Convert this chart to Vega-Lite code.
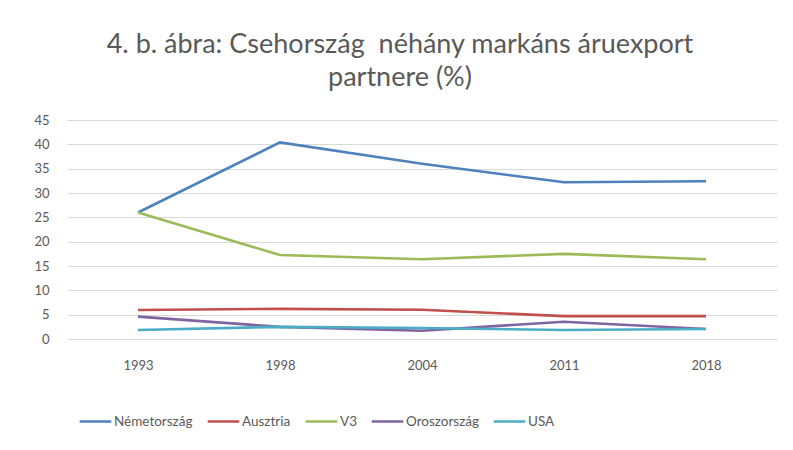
{
  "$schema": "https://vega.github.io/schema/vega-lite/v6.json",
  "width": 710,
  "height": 219,
  "autosize": {"type": "none"},
  "padding": {"left": 67, "top": 120, "right": 16, "bottom": 111},
  "background": "white",
  "config": {
    "view": {"stroke": null},
    "font": "Lato",
    "axis": {"labelFont": "Lato", "labelColor": "#595959", "labelFontSize": 13},
    "legend": {"labelFont": "Lato", "labelColor": "#595959", "labelFontSize": 13.5}
  },
  "title": {
    "text": ["4. b. ábra: Csehország\u00a0 néhány markáns áruexport", "partnere (%)"],
    "font": "Lato",
    "fontSize": 27,
    "fontWeight": "normal",
    "color": "#595959",
    "lineHeight": 33,
    "anchor": "middle",
    "dx": -22,
    "offset": 22
  },
  "data": {
    "values": [
      {"year": "1993", "country": "Németország", "value": 26.0},
      {"year": "1998", "country": "Németország", "value": 40.4},
      {"year": "2004", "country": "Németország", "value": 36.0},
      {"year": "2011", "country": "Németország", "value": 32.2},
      {"year": "2018", "country": "Németország", "value": 32.4},
      {"year": "1993", "country": "Ausztria", "value": 5.95},
      {"year": "1998", "country": "Ausztria", "value": 6.2},
      {"year": "2004", "country": "Ausztria", "value": 6.0},
      {"year": "2011", "country": "Ausztria", "value": 4.7},
      {"year": "2018", "country": "Ausztria", "value": 4.7},
      {"year": "1993", "country": "V3", "value": 26.0},
      {"year": "1998", "country": "V3", "value": 17.25},
      {"year": "2004", "country": "V3", "value": 16.4},
      {"year": "2011", "country": "V3", "value": 17.5},
      {"year": "2018", "country": "V3", "value": 16.4},
      {"year": "1993", "country": "Oroszország", "value": 4.6},
      {"year": "1998", "country": "Oroszország", "value": 2.5},
      {"year": "2004", "country": "Oroszország", "value": 1.7},
      {"year": "2011", "country": "Oroszország", "value": 3.55},
      {"year": "2018", "country": "Oroszország", "value": 2.05},
      {"year": "1993", "country": "USA", "value": 1.85},
      {"year": "1998", "country": "USA", "value": 2.5},
      {"year": "2004", "country": "USA", "value": 2.25},
      {"year": "2011", "country": "USA", "value": 1.85},
      {"year": "2018", "country": "USA", "value": 2.05}
    ]
  },
  "mark": {"type": "line", "strokeWidth": 2.6},
  "encoding": {
    "x": {
      "field": "year",
      "type": "ordinal",
      "scale": {"type": "point", "padding": 0.5},
      "axis": {"title": null, "labelAngle": 0, "ticks": false, "domain": false, "labelPadding": 20, "grid": false}
    },
    "y": {
      "field": "value",
      "type": "quantitative",
      "scale": {"domain": [0, 45]},
      "axis": {"title": null, "values": [0, 5, 10, 15, 20, 25, 30, 35, 40, 45], "ticks": false, "domain": false, "gridColor": "#D9D9D9", "gridWidth": 1, "labelPadding": 18}
    },
    "color": {
      "field": "country",
      "type": "nominal",
      "sort": ["Németország", "Ausztria", "V3", "Oroszország", "USA"],
      "scale": {
        "domain": ["Németország", "Ausztria", "V3", "Oroszország", "USA"],
        "range": ["#4F81BD", "#C0504D", "#9BBB59", "#8064A2", "#4BACC6"]
      },
      "legend": {
        "title": null,
        "orient": "none",
        "direction": "horizontal",
        "legendX": 11,
        "legendY": 284,
        "symbolType": "stroke",
        "symbolSize": 1000,
        "symbolStrokeWidth": 2.6,
        "labelOffset": 1,
        "columnPadding": 9
      }
    }
  }
}
